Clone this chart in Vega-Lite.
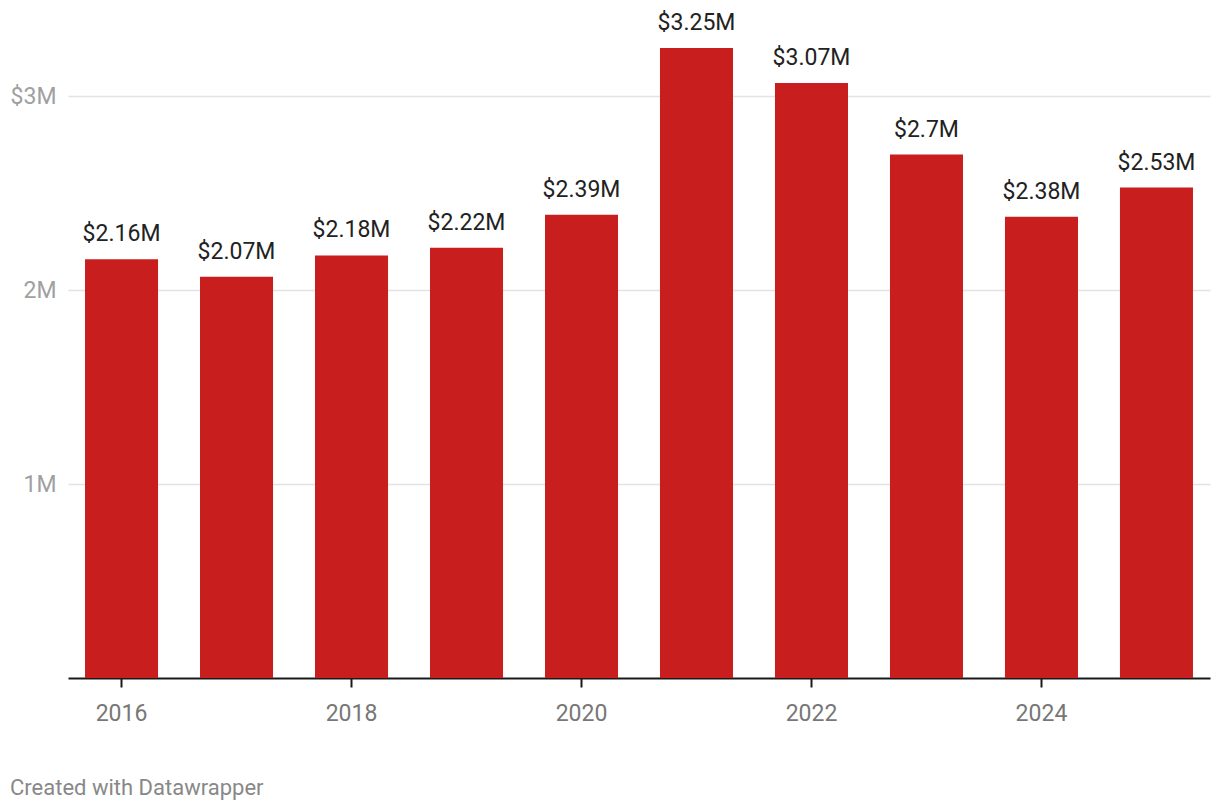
{
  "$schema": "https://vega.github.io/schema/vega-lite/v6.json",
  "autosize": "none",
  "width": 1142,
  "height": 630,
  "padding": {"left": 68, "top": 48, "right": 10, "bottom": 132},
  "background": "white",
  "config": {
    "view": {"stroke": null},
    "font": "Roboto"
  },
  "title": {
    "text": "Created with Datawrapper",
    "orient": "bottom",
    "anchor": "start",
    "frame": "group",
    "dx": -58,
    "offset": 53,
    "font": "Roboto",
    "fontSize": 22,
    "fontWeight": "normal",
    "color": "#888888"
  },
  "data": {
    "values": [
      {"year": "2016", "value": 2.16, "label": "$2.16M"},
      {"year": "2017", "value": 2.07, "label": "$2.07M"},
      {"year": "2018", "value": 2.18, "label": "$2.18M"},
      {"year": "2019", "value": 2.22, "label": "$2.22M"},
      {"year": "2020", "value": 2.39, "label": "$2.39M"},
      {"year": "2021", "value": 3.25, "label": "$3.25M"},
      {"year": "2022", "value": 3.07, "label": "$3.07M"},
      {"year": "2023", "value": 2.7, "label": "$2.7M"},
      {"year": "2024", "value": 2.38, "label": "$2.38M"},
      {"year": "2025", "value": 2.53, "label": "$2.53M"}
    ]
  },
  "encoding": {
    "x": {
      "field": "year",
      "type": "ordinal",
      "scale": {"paddingInner": 0.365, "paddingOuter": 0.148},
      "axis": {
        "title": null,
        "labelAngle": 0,
        "values": ["2016", "2018", "2020", "2022", "2024"],
        "labelFont": "Roboto",
        "labelFontSize": 23,
        "labelColor": "#777777",
        "labelPadding": 15,
        "domainColor": "#1a1a1a",
        "domainWidth": 2,
        "tickColor": "#1a1a1a",
        "tickWidth": 2,
        "tickSize": 9,
        "grid": false
      }
    },
    "y": {
      "field": "value",
      "type": "quantitative",
      "scale": {"domain": [0, 3.25], "nice": false, "zero": true},
      "axis": {
        "title": null,
        "values": [1, 2, 3],
        "labelExpr": "datum.value == 3 ? '$3M' : datum.value + 'M'",
        "labelFont": "Roboto",
        "labelFontSize": 23,
        "labelColor": "#a0a0a0",
        "labelPadding": 12,
        "ticks": false,
        "domain": false,
        "grid": true,
        "gridColor": "#e3e3e3",
        "gridWidth": 1.5
      }
    }
  },
  "layer": [
    {
      "mark": {"type": "bar", "color": "#c81e1e"}
    },
    {
      "mark": {"type": "text", "baseline": "bottom", "dy": -13, "fontSize": 23, "font": "Roboto", "color": "#222222"},
      "encoding": {
        "text": {"field": "label", "type": "nominal"}
      }
    }
  ]
}
